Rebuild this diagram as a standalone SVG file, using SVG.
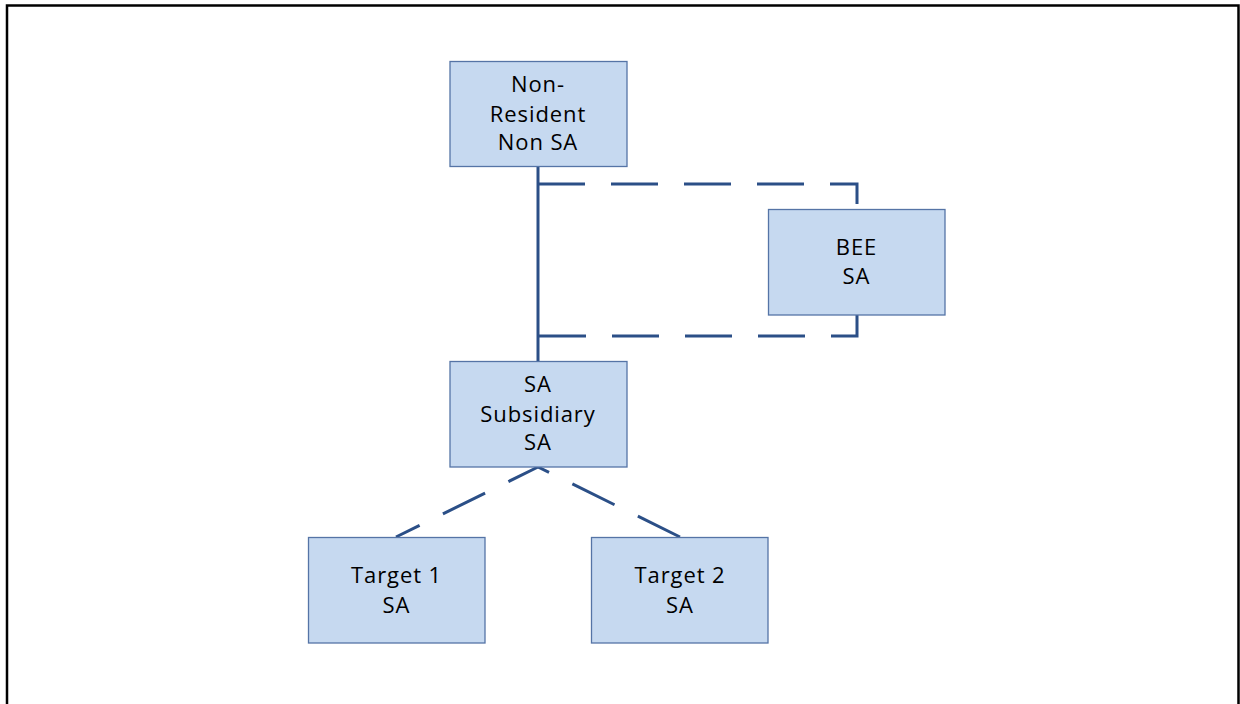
<svg xmlns="http://www.w3.org/2000/svg" width="1240" height="704" viewBox="0 0 1240 704">
<style>
.box{fill:#C6D9F0;stroke:#5574A6;stroke-width:1.3}
.t{font-family:"Open Sans","Liberation Sans",sans-serif;font-size:22px;letter-spacing:0.9px;fill:#000;text-anchor:middle}
.ln{fill:none;stroke:#2B4F87;stroke-width:3}
.dash{stroke-dasharray:47 26}
</style>
<rect width="1240" height="704" fill="#fff"/>
<path d="M7,710 V5.5 H1238.5 V710" fill="none" stroke="#000" stroke-width="2.5"/>
<g id="connectors">
<line class="ln" x1="538" y1="166" x2="538" y2="361"/>
<path class="ln dash" d="M538,184 H857 V209"/>
<path class="ln dash" d="M857,315 V336 H538"/>
<line class="ln dash" x1="538" y1="467" x2="396" y2="537" stroke-dashoffset="14"/>
<line class="ln dash" x1="680" y1="537" x2="538" y2="467"/>
</g>
<g id="nonresident">
<rect class="box" x="450" y="61.5" width="177" height="105"/>
<text class="t" x="538" y="92">Non-</text>
<text class="t" x="538" y="121.5">Resident</text>
<text class="t" x="538" y="150">Non SA</text>
</g>
<g id="bee">
<rect class="box" x="768.5" y="209.5" width="176.5" height="105.5"/>
<text class="t" x="856.5" y="255">BEE</text>
<text class="t" x="856.5" y="284">SA</text>
</g>
<g id="subsidiary">
<rect class="box" x="450" y="361.5" width="177" height="105.5"/>
<text class="t" x="538" y="392">SA</text>
<text class="t" x="538" y="421.5">Subsidiary</text>
<text class="t" x="538" y="450">SA</text>
</g>
<g id="target1">
<rect class="box" x="308.5" y="537.5" width="176.5" height="105.5"/>
<text class="t" x="396.5" y="583">Target 1</text>
<text class="t" x="396.5" y="612.5">SA</text>
</g>
<g id="target2">
<rect class="box" x="591.5" y="537.5" width="176.5" height="105.5"/>
<text class="t" x="680" y="583">Target 2</text>
<text class="t" x="680" y="612.5">SA</text>
</g>
</svg>
